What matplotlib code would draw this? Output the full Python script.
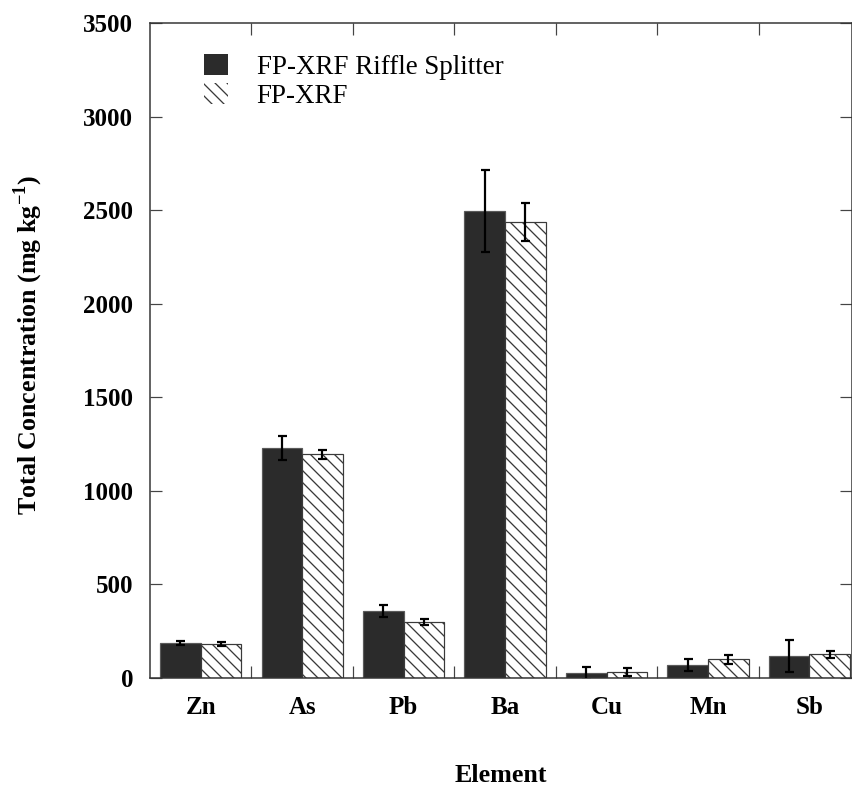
import numpy as np
import matplotlib
matplotlib.use('Agg')
import matplotlib.pyplot as plt
from matplotlib.patches import Patch

plt.rcParams['font.family'] = 'Liberation Serif'
plt.rcParams['mathtext.fontset'] = 'custom'
plt.rcParams['mathtext.rm'] = 'Liberation Serif'
plt.rcParams['mathtext.bf'] = 'Liberation Serif:bold'
plt.rcParams['hatch.linewidth'] = 1.3

elements = ['Zn', 'As', 'Pb', 'Ba', 'Cu', 'Mn', 'Sb']

# mean concentrations and standard deviations (mg/kg)
riffle_mean = [189, 1230, 358, 2497, 25, 70, 119]
riffle_sd = [11, 65, 34, 218, 35, 33, 85]
xrf_mean = [180, 1195, 298, 2435, 33, 100, 127]
xrf_sd = [10, 23, 16, 101, 21, 23, 18]

x = np.arange(len(elements))
width = 0.4

fig = plt.figure(figsize=(852 / 72, 787 / 72), dpi=72)
ax = fig.add_axes([150 / 852, 1 - 678 / 787, 702 / 852, 655 / 787])

ax.bar(x - width / 2, riffle_mean, width, color='#2b2b2b', edgecolor='#5a5a5a',
       linewidth=1.2, zorder=2)
ax.bar(x + width / 2, xrf_mean, width, color='white', edgecolor='#3a3a3a',
       hatch='\\\\', linewidth=1.2, zorder=2)

err_style = dict(fmt='none', ecolor='black', elinewidth=2.2, capsize=4.5, capthick=2.2, zorder=3)
ax.errorbar(x - width / 2, riffle_mean, yerr=riffle_sd, **err_style)
ax.errorbar(x + width / 2, xrf_mean, yerr=xrf_sd, **err_style)

ax.set_xlim(-0.5, 6.42)
ax.set_ylim(0, 3500)
ax.set_yticks(np.arange(0, 3501, 500))
ax.set_xticks(x)
ax.set_xticklabels(elements)
ax.set_xticks(x[:-1] + 0.5, minor=True)

ax.tick_params(axis='y', which='major', direction='in', length=12, width=1.2,
               right=True, labelsize=25, pad=17, color='#444444')
ax.tick_params(axis='x', which='major', length=0, labelsize=25, pad=18)
ax.tick_params(axis='x', which='minor', direction='in', length=12, width=1.2,
               top=True, color='#444444')
for lab in ax.get_xticklabels() + ax.get_yticklabels():
    lab.set_fontweight('bold')

for sp in ax.spines.values():
    sp.set_linewidth(1.5)
    sp.set_color('#333333')

fig.text(28 / 852, 1 - 345 / 787, 'Total Concentration (mg kg$^{\\mathbf{-1}}$)',
         rotation=90, ha='center', va='center', fontsize=26, fontweight='bold')
fig.text(501 / 852, 1 - 776 / 787, 'Element', ha='center', va='center',
         fontsize=26, fontweight='bold')

handles = [Patch(facecolor='#2b2b2b', edgecolor='none'),
           Patch(facecolor='white', edgecolor='#3a3a3a', hatch='\\\\', linewidth=0)]
ax.legend(handles, ['FP-XRF Riffle Splitter', 'FP-XRF'], loc='upper left',
          bbox_to_anchor=(204 / 852, 1 - 54 / 787), bbox_transform=fig.transFigure,
          frameon=False, fontsize=27, borderpad=0, borderaxespad=0,
          handlelength=0.9, handleheight=0.82, handletextpad=1.05, labelspacing=0.12)

fig.savefig('out.png', dpi=72)
